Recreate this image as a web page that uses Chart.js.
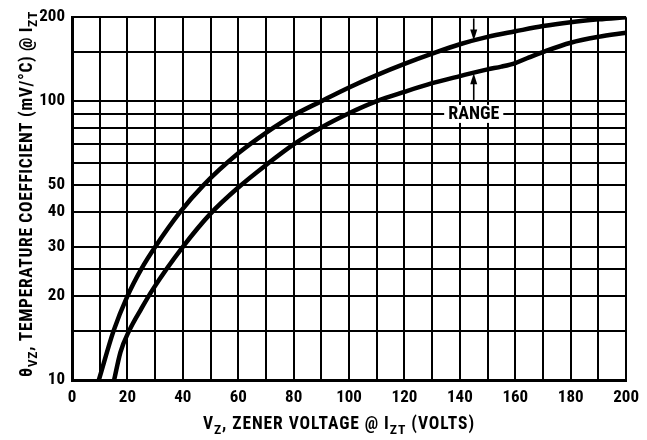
<!DOCTYPE html>
<html>
<head>
<meta charset="utf-8">
<script src="https://cdn.jsdelivr.net/npm/chart.js@4.4.1/dist/chart.umd.min.js"></script>
<style>
  html, body { margin: 0; padding: 0; background: #fff; }
  #wrap { width: 647px; height: 440px; }
</style>
</head>
<body>
<div id="wrap"><canvas id="c" width="647" height="440"></canvas></div>
<script>
// ---- data ----
const upperX = [9.7, 15, 20, 25, 30, 39, 47.5, 60, 70, 80, 90, 100, 110, 120, 130, 140, 150, 160, 170, 180, 190, 200];
const upperY = [10, 15, 20, 25, 30, 40, 50, 65, 77, 89, 100, 112, 124, 136, 148, 160, 170, 178, 186, 192, 196.5, 200];
const lowerX = [15.2, 17.5, 20.6, 25, 29, 40, 50, 60, 70, 80, 90, 100, 110, 120, 130, 140, 150, 155, 160, 165, 170, 180, 190, 200];
const lowerY = [10, 12.6, 15, 18, 21, 30, 39.5, 49, 59, 70, 80.5, 90.5, 100, 108, 116, 123, 130, 133, 137, 143.5, 150, 162, 170, 176];
const xTickLabels = [0, 20, 40, 60, 80, 100, 120, 140, 160, 180, 200];
const yGridValues = [10, 15, 20, 25, 30, 40, 50, 60, 70, 80, 90, 100, 150, 200];
const yTickLabels = [10, 20, 30, 40, 50, 100, 200];
const rangeLabel = 'RANGE';
const rangeAt = { x: 145, y: 90 };
const arrowDown = { x: 145, from: 198, to: 165 };
const arrowUp = { x: 145, from: 101, to: 126 };

const FONT = "'Roboto Condensed', 'DejaVu Sans Condensed', sans-serif";

function toPoints(xs, ys) { return xs.map((x, i) => ({ x: x, y: ys[i] })); }

// a title is a list of [text, isSubscript] parts
function partsWidth(ctx, parts, big, small) {
  let w = 0;
  for (const [t, sub] of parts) {
    ctx.font = 'bold ' + (sub ? small : big) + 'px ' + FONT;
    w += ctx.measureText(t).width;
  }
  return w;
}
function drawParts(ctx, parts, x, y, big, small) {
  let cx = x;
  for (const [t, sub] of parts) {
    ctx.font = 'bold ' + (sub ? small : big) + 'px ' + FONT;
    ctx.fillText(t, cx, sub ? y + big * 0.28 : y);
    cx += ctx.measureText(t).width;
  }
}
function charCount(parts) { return parts.reduce((n, p) => n + p[0].length, 0); }

const xTitle = [['V', false], ['Z', true], [', ZENER VOLTAGE @ I', false], ['ZT', true], [' (VOLTS)', false]];
const yTitle = [['θ', false], ['VZ', true], [', TEMPERATURE COEFFICIENT (mV/°C) @ I', false], ['ZT', true]];

// draw a title at a fixed size, spreading letters to reach the target length
function drawTitle(ctx, parts, cx, y, size, target) {
  const small = size * 0.78;
  ctx.letterSpacing = '0px';
  const w0 = partsWidth(ctx, parts, size, small);
  const sp = Math.max(0, (target - w0) / charCount(parts));
  ctx.letterSpacing = sp.toFixed(2) + 'px';
  const w = partsWidth(ctx, parts, size, small);
  drawParts(ctx, parts, cx - w / 2, y, size, small);
  ctx.letterSpacing = '0px';
}

const decor = {
  id: 'decor',
  afterDraw(chart) {
    const ctx = chart.ctx;
    const xs = chart.scales.x, ys = chart.scales.y;
    ctx.save();
    ctx.fillStyle = '#000';
    ctx.textAlign = 'left';
    ctx.textBaseline = 'alphabetic';
    // x title
    drawTitle(ctx, xTitle, 339, 429, 17.5, 272);
    // y title rotated
    ctx.save();
    ctx.translate(32, 194);
    ctx.rotate(-Math.PI / 2);
    drawTitle(ctx, yTitle, 0, 0, 17.5, 366);
    ctx.restore();

    // RANGE label with white background over gridline
    const px = xs.getPixelForValue(rangeAt.x), py = ys.getPixelForValue(rangeAt.y);
    ctx.font = 'bold 18px ' + FONT;
    const tw = ctx.measureText(rangeLabel).width;
    ctx.fillStyle = '#fff';
    ctx.fillRect(px - tw / 2 - 4, py - 9, tw + 8, 18);
    ctx.fillStyle = '#000';
    ctx.textAlign = 'center';
    ctx.textBaseline = 'middle';
    ctx.fillText(rangeLabel, px, py + 1);

    // arrows
    function arrow(xv, fromV, toV) {
      const ax = xs.getPixelForValue(xv);
      const y1 = ys.getPixelForValue(fromV), y2 = ys.getPixelForValue(toV);
      const dir = Math.sign(y2 - y1);
      ctx.strokeStyle = '#000';
      ctx.lineWidth = 1.6;
      ctx.beginPath();
      ctx.moveTo(ax, y1);
      ctx.lineTo(ax, y2 - dir * 6);
      ctx.stroke();
      ctx.beginPath();
      ctx.moveTo(ax, y2);
      ctx.lineTo(ax - 3.5, y2 - dir * 11);
      ctx.lineTo(ax + 3.5, y2 - dir * 11);
      ctx.closePath();
      ctx.fill();
    }
    arrow(arrowDown.x, arrowDown.from, arrowDown.to);
    arrow(arrowUp.x, arrowUp.from, arrowUp.to);
    ctx.restore();
  }
};

new Chart(document.getElementById('c'), {
  type: 'scatter',
  data: {
    datasets: [
      { data: toPoints(upperX, upperY), showLine: true, borderColor: '#000', borderWidth: 4.5, pointRadius: 0, cubicInterpolationMode: 'monotone', fill: false },
      { data: toPoints(lowerX, lowerY), showLine: true, borderColor: '#000', borderWidth: 4.5, pointRadius: 0, cubicInterpolationMode: 'monotone', fill: false }
    ]
  },
  options: {
    responsive: false,
    animation: false,
    layout: { padding: { left: 0, right: 19, top: 14, bottom: 0 } },
    plugins: { legend: { display: false }, tooltip: { enabled: false } },
    scales: {
      x: {
        type: 'linear', min: 0, max: 200,
        ticks: {
          stepSize: 10, color: '#000', padding: 8,
          font: { family: FONT, size: 17, weight: 'bold' },
          maxRotation: 0, autoSkip: false,
          callback: v => xTickLabels.includes(v) ? String(v) : ''
        },
        grid: { color: '#000', lineWidth: 2, drawTicks: false },
        border: { color: '#000', width: 3 },
        afterFit: s => { s.height = 60; }
      },
      y: {
        type: 'logarithmic', min: 10, max: 200,
        afterBuildTicks: s => { s.ticks = yGridValues.map(v => ({ value: v })); },
        ticks: {
          color: '#000', padding: 7, autoSkip: false,
          font: { family: FONT, size: 17, weight: 'bold' },
          callback: v => yTickLabels.includes(v) ? String(v) : ''
        },
        grid: { color: '#000', lineWidth: 2, drawTicks: false },
        border: { color: '#000', width: 3 },
        afterFit: s => { s.width = 72; }
      }
    }
  },
  plugins: [decor]
});
</script>
</body>
</html>
